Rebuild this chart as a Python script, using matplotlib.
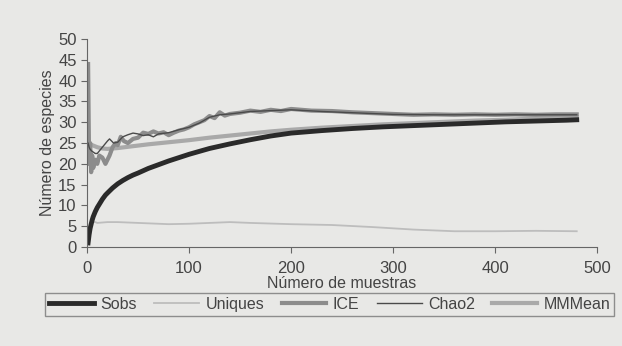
import numpy as np
import matplotlib.pyplot as plt

plt.rcParams['font.family'] = ['Liberation Sans', 'DejaVu Sans']

# Curvas de acumulación de especies
sobs_x = [1, 2, 3, 4, 5, 6, 8, 10, 12, 15, 18, 20, 25, 30, 35, 40, 45, 50, 60, 70,
          80, 90, 100, 120, 140, 160, 180, 200, 230, 260, 290, 320, 350, 380, 410,
          440, 470, 480]
sobs_y = [1, 3, 4.5, 5.5, 6.5, 7.3, 8.5, 9.5, 10.3, 11.5, 12.5, 13, 14.2, 15.2, 16,
          16.7, 17.3, 17.8, 18.9, 19.8, 20.7, 21.5, 22.3, 23.7, 24.8, 25.8, 26.7,
          27.4, 28, 28.5, 28.9, 29.2, 29.5, 29.8, 30.1, 30.3, 30.5, 30.6]

uniq_x = [1, 2, 3, 4, 5, 8, 10, 20, 30, 50, 80, 100, 120, 140, 160, 200, 240, 280,
          320, 360, 400, 440, 480]
uniq_y = [1, 3, 4.5, 5.5, 6, 6, 5.8, 6, 6, 5.8, 5.5, 5.6, 5.8, 6, 5.8, 5.5, 5.3,
          4.8, 4.2, 3.8, 3.8, 3.9, 3.8]

ice_x = [1, 2, 3, 4, 5, 6, 8, 10, 12, 15, 18, 20, 22, 25, 28, 30, 33, 36, 40, 45,
         50, 55, 60, 65, 70, 75, 80, 85, 90, 95, 100, 105, 110, 115, 120, 125, 130,
         135, 140, 150, 160, 170, 180, 190, 200, 210, 220, 240, 260, 280, 300, 320,
         340, 360, 380, 400, 420, 440, 460, 480]
ice_y = [44, 20, 25, 18, 22, 19, 21, 20, 22, 21.5, 20, 21, 22, 24, 25, 24.5, 26.5,
         25.5, 25, 26, 26.3, 27.5, 27.2, 27.8, 27.3, 27.6, 26.9, 27.5, 28, 28.3,
         28.8, 29.5, 30, 30.5, 31.5, 31, 32.4, 31.6, 32, 32.3, 32.8, 32.5, 33, 32.7,
         33.2, 33, 32.8, 32.7, 32.4, 32.2, 32, 31.8, 31.9, 31.8, 31.9, 31.8, 31.9,
         31.8, 31.9, 31.9]

chao_x = [1, 2, 3, 5, 8, 10, 15, 20, 22, 26, 30, 35, 40, 45, 50, 55, 60, 65, 70,
          80, 90, 100, 110, 120, 130, 140, 160, 180, 200, 230, 260, 300, 340, 380,
          420, 460, 480]
chao_y = [25, 24, 23.5, 23, 22.5, 22.5, 24, 25.5, 26, 25, 25.2, 26.5, 27, 27.4,
          27.2, 26.8, 27, 26.5, 27.2, 27.5, 28.2, 28.8, 29.8, 31.2, 31.8, 32, 32.6,
          32.8, 33, 32.6, 32.3, 31.9, 31.8, 31.8, 31.8, 31.8, 31.8]

mm_x = [1, 2, 3, 5, 8, 10, 15, 20, 30, 40, 50, 60, 80, 100, 120, 140, 160, 180, 200,
        230, 260, 290, 320, 350, 380, 410, 440, 470, 480]
mm_y = [25.5, 25, 24.8, 24.5, 24.2, 24, 23.7, 23.6, 23.8, 24.1, 24.4, 24.7, 25.2,
        25.7, 26.3, 26.8, 27.3, 27.8, 28.2, 28.7, 29.1, 29.5, 29.8, 30.1, 30.4,
        30.6, 30.9, 31.1, 31.2]

bg = '#e8e8e6'
fig = plt.figure(figsize=(6.22, 3.46), dpi=100, facecolor=bg)
ax = fig.add_axes([0.14, 0.286, 0.82, 0.601], facecolor=bg)

ax.plot(uniq_x, uniq_y, color='#bdbdbd', lw=1.3, label='Uniques')
ax.plot(mm_x, mm_y, color='#a9a9a9', lw=3, label='MMMean')
ax.plot(ice_x, ice_y, color='#8c8c8c', lw=3, label='ICE')
ax.plot(chao_x, chao_y, color='#4a4a4a', lw=1, label='Chao2')
ax.plot(sobs_x, sobs_y, color='#2a2a2a', lw=3.5, label='Sobs')

ax.set_xlim(0, 500)
ax.set_ylim(0, 50)
ax.set_xticks(np.arange(0, 501, 100))
ax.set_yticks(np.arange(0, 51, 5))
for side in ['top', 'right']:
    ax.spines[side].set_visible(False)
for side in ['left', 'bottom']:
    ax.spines[side].set_color('#666666')
    ax.spines[side].set_linewidth(0.8)
ax.tick_params(colors='#666666', labelcolor='#444444', labelsize=12, length=4)
ax.tick_params(axis='x', pad=6)
ax.set_xlabel('Número de muestras', fontsize=11.5, color='#444444', labelpad=0)
ax.set_ylabel('Número de especies', fontsize=11.5, color='#444444', labelpad=2)

handles, labels = ax.get_legend_handles_labels()
order = ['Sobs', 'Uniques', 'ICE', 'Chao2', 'MMMean']
hmap = dict(zip(labels, handles))
leg = fig.legend([hmap[k] for k in order], order, loc='center',
                 bbox_to_anchor=(0.53, 0.12), ncol=5, fontsize=11.5, frameon=True,
                 fancybox=False, edgecolor='#777777', facecolor=bg,
                 handlelength=2.8, columnspacing=1.1, handletextpad=0.4,
                 borderpad=0.25)
for t in leg.get_texts():
    t.set_color('#444444')

fig.savefig('out.png', dpi=100, facecolor=bg)
